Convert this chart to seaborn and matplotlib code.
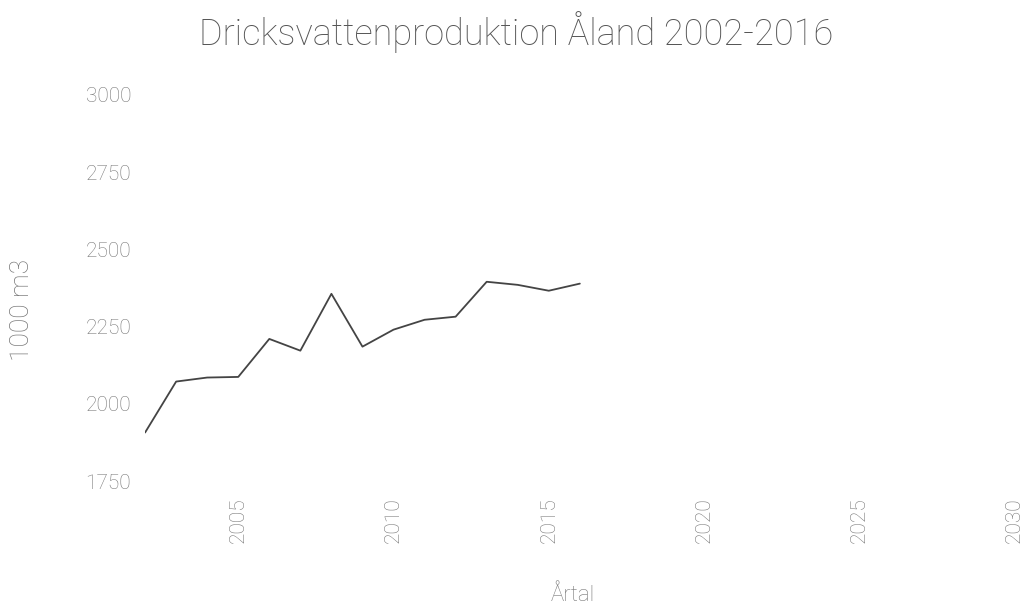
import matplotlib
matplotlib.use("Agg")
import matplotlib.pyplot as plt
import seaborn as sns
import pandas as pd

# Data
years = [2002, 2003, 2004, 2005, 2006, 2007, 2008, 2009, 2010, 2011, 2012, 2013, 2014, 2015, 2016]
production = [1907, 2072, 2085, 2087, 2210, 2172, 2356, 2185, 2240, 2272, 2282, 2395, 2385, 2366, 2389]
y_ticks = [1750, 2000, 2250, 2500, 2750, 3000]
x_ticks = [2005, 2010, 2015, 2020, 2025, 2030]

data = pd.DataFrame({"Årtal": years, "1000 m3": production})

sns.set_style("white")
plt.rcParams['font.family'] = ['Roboto', 'DejaVu Sans']

fig = plt.figure(figsize=(10.29, 6.12), dpi=100)
ax = fig.add_axes([0.141, 0.214, 0.845, 0.631])

sns.lineplot(x="Årtal", y="1000 m3", data=data, ax=ax, color='#444444', linewidth=1.3)

ax.set_xlim(2002, 2030)
ax.set_ylim(1750, 3000)
ax.set_xticks(x_ticks)
ax.set_yticks(y_ticks)
ax.tick_params(axis='x', labelrotation=90, length=0, labelsize=15, colors='#777777', pad=12)
ax.tick_params(axis='y', length=0, labelsize=15, colors='#777777', pad=10)
for lbl in ax.get_xticklabels() + ax.get_yticklabels():
    lbl.set_fontweight('light')
sns.despine(ax=ax, left=True, bottom=True)

ax.set_xlabel('Årtal', fontsize=16, color='#777777', fontweight='light')
ax.xaxis.set_label_coords(0.492, -0.269)
ax.set_ylabel('1000 m3', fontsize=19, color='#777777', fontweight='light')
ax.yaxis.set_label_coords(-0.128, 0.443)
fig.text(0.502, 0.948, 'Dricksvattenproduktion Åland 2002-2016', ha='center', va='center',
         fontsize=26, fontweight='light', color='#555555')

plt.savefig('out.png', dpi=100)
